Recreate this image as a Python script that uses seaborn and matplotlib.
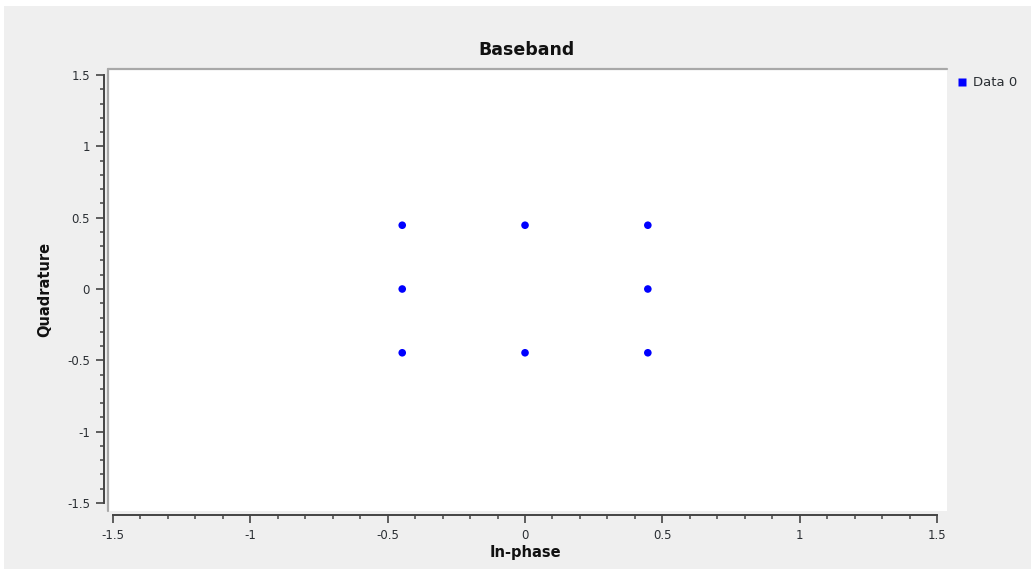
import matplotlib
matplotlib.use("Agg")
import matplotlib.pyplot as plt
import seaborn as sns
import pandas as pd
from matplotlib.lines import Line2D
from matplotlib.patches import Rectangle
from matplotlib.ticker import MultipleLocator, FormatStrFormatter

# ---- data ----
in_phase = [-0.447, 0.0, 0.447, -0.447, 0.447, -0.447, 0.0, 0.447]
quadrature = [0.447, 0.447, 0.447, 0.0, 0.0, -0.447, -0.447, -0.447]
series_name = "Data 0"
title_text = "Baseband"
x_label = "In-phase"
y_label = "Quadrature"
axis_min, axis_max = -1.5, 1.5

df = pd.DataFrame({"In-phase": in_phase, "Quadrature": quadrature})

sns.set_theme(style="white")
plt.rcParams["font.family"] = ["DejaVu Sans"]
plt.rcParams["axes.unicode_minus"] = False

W, H = 1031, 569
fig = plt.figure(figsize=(W / 100, H / 100), dpi=100)
fig.patch.set_facecolor("white")
# grey window background
fig.patches.append(Rectangle((4 / W, 0), 1 - 4 / W, 1 - 6 / H, transform=fig.transFigure,
                             facecolor="#efefef", edgecolor="none", zorder=-10))

ax = fig.add_axes([108 / W, (H - 511) / H, 839 / W, 442 / H])
ax.set_facecolor("white")

sns.scatterplot(data=df, x="In-phase", y="Quadrature", ax=ax, color="#0000ff",
                s=30, edgecolor="none", legend=False)

ax.set_xlim(-1.518, 1.536)
ax.set_ylim(-1.556, 1.542)

spine_color = "#444444"
for side in ["top", "right"]:
    ax.spines[side].set_visible(False)
for side in ["left", "bottom"]:
    sp = ax.spines[side]
    sp.set_visible(True)
    sp.set_color(spine_color)
    sp.set_linewidth(1.4)
    sp.set_position(("outward", 3))
    sp.set_bounds(axis_min, axis_max)

# canvas frame (top and left sunken border)
ax.plot([0, 1], [1, 1], transform=ax.transAxes, color="#a8a8a8", lw=1.6, clip_on=False, zorder=5)
ax.plot([0, 0], [0, 1], transform=ax.transAxes, color="#a8a8a8", lw=1.6, clip_on=False, zorder=5)

for axis in (ax.xaxis, ax.yaxis):
    axis.set_major_locator(MultipleLocator(0.5))
    axis.set_minor_locator(MultipleLocator(0.1))
    axis.set_major_formatter(FormatStrFormatter("%g"))

ax.tick_params(which="major", direction="out", length=6, width=1.2, color=spine_color,
               labelsize=8.5, labelcolor="#2a2e33", pad=4)
ax.tick_params(which="minor", direction="out", length=3, width=1.1, color=spine_color)
ax.tick_params(axis="both", which="both", bottom=True, left=True, top=False, right=False)

ax.set_xlabel(x_label, fontsize=10.5, fontweight="bold", color="#111111")
ax.set_ylabel(y_label, fontsize=10.5, fontweight="bold", color="#111111")
ax.xaxis.set_label_coords((525 - 108) / 839, (511 - 553) / 442)
ax.xaxis.label.set_va("center")
ax.yaxis.set_label_coords((45 - 108) / 839, (511 - 289) / 442)
ax.yaxis.label.set_va("center")

fig.text(526 / W, 1 - 50 / H, title_text, ha="center", va="center",
         fontsize=12.5, fontweight="bold", color="#111111")

handle = Line2D([], [], linestyle="none", marker="s", markersize=5.5,
                markerfacecolor="#0000ff", markeredgecolor="none", label=series_name)
ax.legend(handles=[handle], loc="center left", bbox_to_anchor=(955 / W, 1 - 83 / H),
          bbox_transform=fig.transFigure, frameon=False, handlelength=1.0,
          handletextpad=0.35, borderpad=0, borderaxespad=0,
          prop={"size": 9.5}, labelcolor="#2a2e33")

fig.savefig("out.png", dpi=100)
